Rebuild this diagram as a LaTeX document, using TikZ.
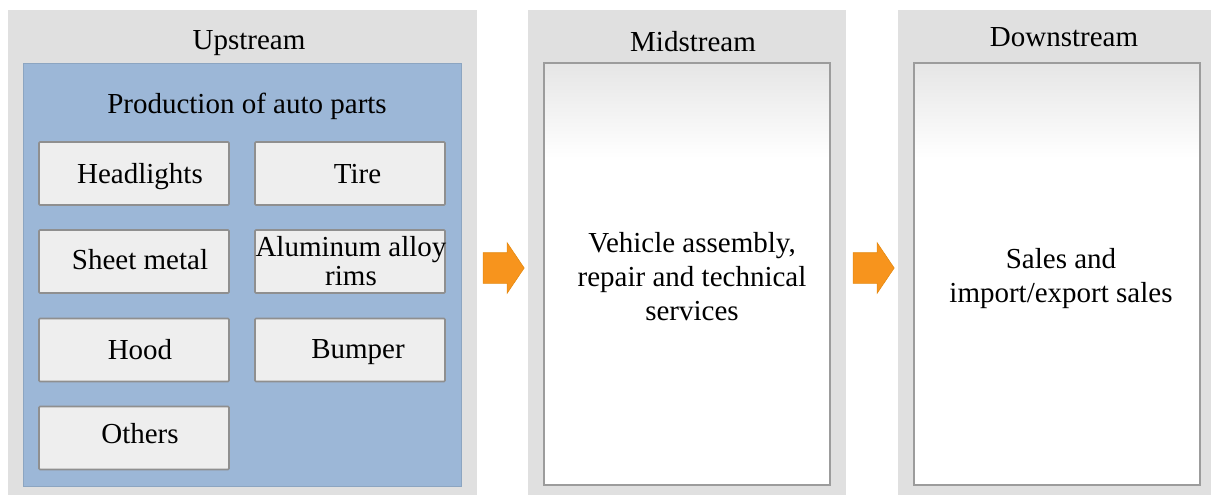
\documentclass[tikz,border=0pt]{standalone}
\usepackage{fontspec}
\setmainfont{Liberation Serif}
\usetikzlibrary{shapes.arrows}
\definecolor{outergray}{HTML}{E0E0E0}
\definecolor{bluebg}{HTML}{9CB7D7}
\definecolor{itemfill}{HTML}{EEEEEE}
\definecolor{itemline}{HTML}{8F8F8F}
\definecolor{panelline}{HTML}{9C9C9C}
\definecolor{arroworange}{HTML}{F7941D}
\definecolor{arrowedge}{HTML}{E58A10}
\begin{document}
\begin{tikzpicture}[x=1pt,y=-1pt,
  every node/.style={inner sep=0pt, outer sep=0pt, font=\fontsize{29}{34}\selectfont},
  outerbox/.style={rectangle, fill=outergray, draw=none},
  bluebox/.style={rectangle, fill=bluebg, draw=bluebg!90!black, line width=0.5pt},
  itembox/.style={rectangle, fill=itemfill, draw=itemline, line width=1.6pt, rounded corners=1pt, minimum width=190pt, minimum height=63pt},
  panel/.style={rectangle, fill=white, minimum width=286pt, minimum height=422pt},
  flowarrow/.style={single arrow, fill=arroworange, draw=arrowedge, line width=0.6pt, inner xsep=0pt, inner ysep=15pt, minimum height=41pt, single arrow head extend=10pt, single arrow tip angle=112, shape border rotate=0},
  lbl/.style={anchor=base, align=center}
]
\useasboundingbox (0,0) rectangle (1212,495);
% outer boxes
\node[outerbox, minimum width=469pt, minimum height=485pt] (up) at (242.5,252.5) {};
\node[outerbox, minimum width=318pt, minimum height=485pt] (mid) at (687,252.5) {};
\node[outerbox, minimum width=313pt, minimum height=485pt] (down) at (1054.5,252.5) {};
% titles
\node[lbl] (upt) at (249,49) {Upstream};
\node[lbl] (midt) at (693,52) {Midstream};
\node[lbl] (downt) at (1064,47) {Downstream};
% blue area
\node[bluebox, minimum width=438pt, minimum height=423pt] (blue) at (242,274.5) {};
\node[lbl] (prod) at (247,113) {Production of auto parts};
% items
\node[itembox] (b1) at (134,173.5) {};
\node[itembox] (b2) at (350,173.5) {};
\node[itembox] (b3) at (134,261.5) {};
\node[itembox] (b4) at (350,261.5) {};
\node[itembox] (b5) at (134,350) {};
\node[itembox] (b6) at (350,350) {};
\node[itembox] (b7) at (134,438) {};
\node[lbl] (t1) at (140,183) {Headlights};
\node[lbl] (t2) at (357.5,183) {Tire};
\node[lbl] (t3) at (140,269) {Sheet metal};
\node[lbl, font=\fontsize{29}{28.5}\selectfont] (t4) at (351,285) {Aluminum alloy\\rims};
\node[lbl] (t5) at (140,359) {Hood};
\node[lbl] (t6) at (358,358) {Bumper};
\node[lbl] (t7) at (140,443) {Others};
% white panels
\node[panel] (midp) at (687,274) {};
\node[panel] (downp) at (1057,274) {};
\shade[top color=black!10, bottom color=white] (midp.north west) rectangle ([yshift=-95pt]midp.north east);
\shade[top color=black!10, bottom color=white] (downp.north west) rectangle ([yshift=-95pt]downp.north east);
\draw[panelline, line width=2pt] (midp.north west) rectangle (midp.south east);
\draw[panelline, line width=2pt] (downp.north west) rectangle (downp.south east);
\node[lbl] (midtxt) at (692,320) {Vehicle assembly,\\repair and technical\\services};
\node[lbl] (downtxt) at (1061,302) {Sales and\\import/export sales};
% arrows
\node[flowarrow] (a1) at (498.5,268) {};
\node[flowarrow] (a2) at (868.5,268) {};
\end{tikzpicture}
\end{document}
